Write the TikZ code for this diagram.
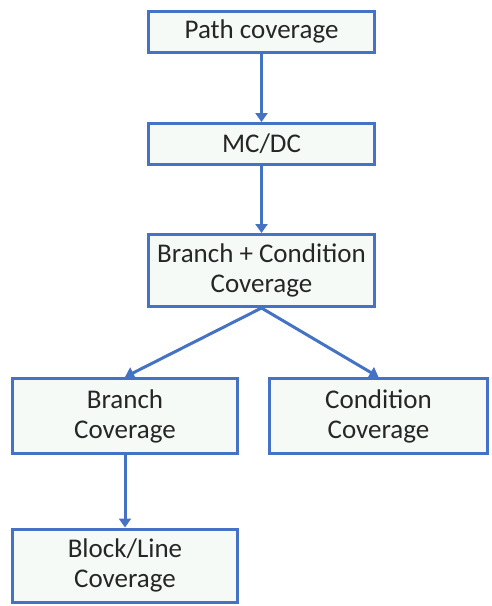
\documentclass[tikz,border=0pt]{standalone}
\usepackage{fontspec}
\setmainfont{Carlito}
\usepackage{tikz}
\usetikzlibrary{arrows.meta,positioning}
\definecolor{boxblue}{RGB}{68,114,196}
\definecolor{boxfill}{RGB}{245,250,247}

\begin{document}
\begin{tikzpicture}[x=1pt,y=-1pt,
    level/.style={draw=boxblue,line width=3pt,fill=boxfill,align=center,
      text=black!85,inner sep=0pt,font=\fontsize{27}{30}\selectfont},
    link/.style={draw=boxblue,line width=3pt,-{Triangle[length=9pt,width=12pt]}}]
    \useasboundingbox (0,0) rectangle (491,606);
    \node[level,minimum width=226pt,minimum height=41pt] (path) at (261.5,31.5) {Path coverage};
    \node[level,minimum width=226pt,minimum height=41pt] (mcdc) at (261.5,144) {MC/DC};
    \node[level,minimum width=226pt,minimum height=72pt] (bc) at (261.5,270.5) {Branch + Condition\\Coverage};
    \node[level,minimum width=225pt,minimum height=75pt] (branch) at (125,416) {Branch\\Coverage};
    \node[level,minimum width=218pt,minimum height=75pt] (cond) at (378.5,416) {Condition\\Coverage};
    \node[level,minimum width=225pt,minimum height=73pt] (block) at (125,565.5) {Block/Line\\Coverage};
    \path
    (path) edge[link] (mcdc)
    (mcdc) edge[link] (bc)
    (bc.south) edge[link] (branch.north)
    (bc.south) edge[link] (cond.north)
    (branch) edge[link] (block);
  \end{tikzpicture}
\end{document}
